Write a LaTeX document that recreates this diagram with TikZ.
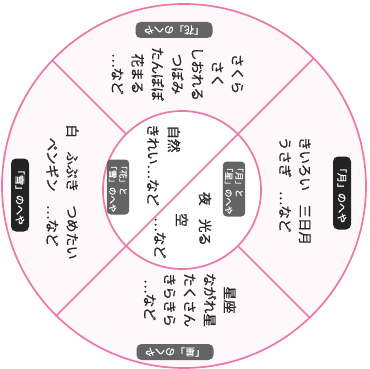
\documentclass[tikz,border=0pt]{standalone}
\usepackage{fontspec}
\setmainfont{Noto Sans CJK JP}[FakeBold=0.9]
\definecolor{pinkline}{RGB}{236,120,168}
\definecolor{ringfill}{RGB}{254,248,250}
\definecolor{txtcol}{RGB}{40,40,40}
\definecolor{blacklab}{RGB}{35,35,35}
\definecolor{graylab}{RGB}{100,100,100}
\tikzset{
  txt/.style={rotate=-90, text=txtcol, inner sep=0pt, font=\fontsize{13.5}{20}\selectfont},
  darklabel/.style={fill=blacklab, text=white, rounded corners=5pt, inner sep=0pt,
     minimum width=73pt, minimum height=18pt, font=\fontsize{10}{12}\selectfont},
  graylabel/.style={fill=graylab, text=white, rounded corners=5pt, inner sep=0pt,
     minimum width=77pt, minimum height=16pt, font=\fontsize{10}{12}\selectfont},
  innerlabel/.style={fill=graylab, text=white, rounded corners=4pt, inner sep=2pt,
     align=left, font=\fontsize{8.5}{10.5}\selectfont},
  divider/.style={draw=pinkline, line width=1.7pt}
}
\begin{document}
\begin{tikzpicture}[x=1pt,y=-1pt]
\useasboundingbox (0,0) rectangle (369,369);
\coordinate (OC) at (184,186);
\coordinate (IC) at (182,190);
% ring fill
\fill[ringfill] (OC) circle (182);
\fill[white] (IC) circle (79);
% dividers
\begin{scope}
\clip (OC) circle (182);
\draw[divider] (323.4,48.6) -- (40.6,331.4);
\draw[divider] (126.1,134.1) -- (40.6,48.6);
\draw[divider] (237.9,245.9) -- (323.4,331.4);
\end{scope}
\draw[divider] (OC) circle (182);
\draw[divider] (IC) circle (79);
% outer labels
\node[graylabel, rotate=180] (lhana) at (174,30) {「花」のへや};
\node[darklabel, rotate=-90] (ltsuki) at (342,193) {「月」のへや};
\node[graylabel, rotate=180] (lhoshi) at (175,352) {「星」のへや};
\node[darklabel, rotate=-90] (lyuki) at (20,195) {「雪」のへや};
% outer texts
\node[txt, align=center] (hana) at (177.5,74) {さくら\\さく\\しおれる\\つぼみ\\たんぽぽ\\花まる\\…など};
\node[txt, align=left] (tsuki) at (295,191) {きいろい　三日月\\うさぎ　…など};
\node[txt, align=center] (hoshi) at (190,300) {星座\\ながれ星\\たくさん\\きらきら\\…など};
\node[txt, align=center] (yuki) at (62.5,192) {白　ふぶき　つめたい\\ペンギン　…など};
% inner labels
\node[innerlabel, rotate=-90] (lhanayuki) at (118,187) {「花」と\\「雪」のへや};
\node[innerlabel, rotate=-90] (ltsukihoshi) at (234,189) {「月」と\\「星」のへや};
% inner texts
\node[txt] (shizen) at (174,139) {自然};
\node[txt] (kirei) at (153,165) {きれい…など};
\node[txt] (yoru) at (205,219) {夜　光る};
\node[txt] (sora) at (182,220) {空};
\node[txt] (nado) at (160,238) {…など};
\end{tikzpicture}
\end{document}
